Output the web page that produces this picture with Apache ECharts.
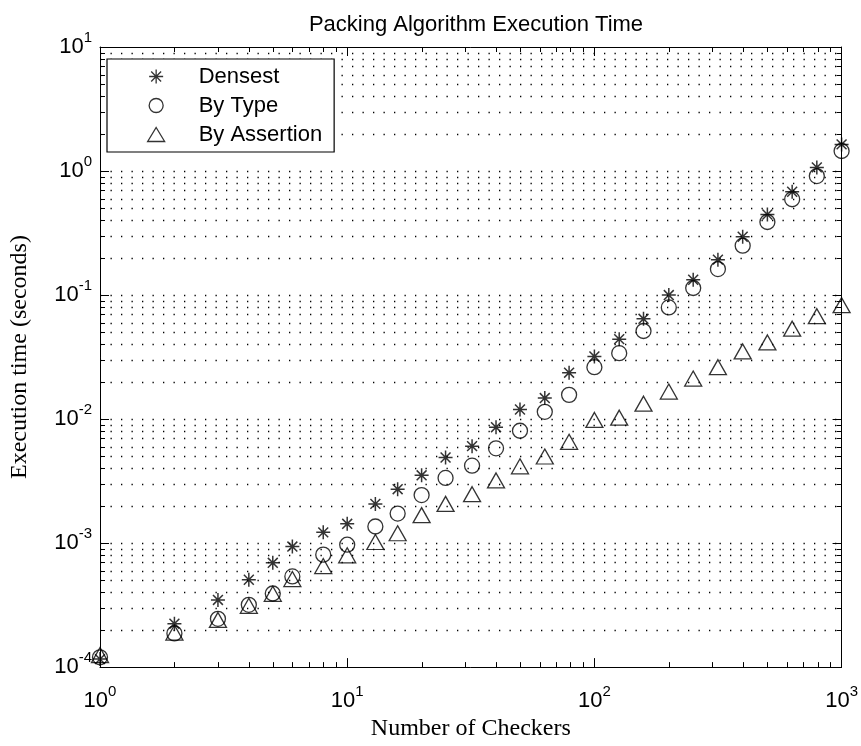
<!DOCTYPE html>
<html>
<head>
<meta charset="utf-8">
<script src="https://cdn.jsdelivr.net/npm/echarts@6/dist/echarts.min.js"></script>
<style>
html,body{margin:0;padding:0;background:#fff;}
#chart{width:861px;height:746px;}
</style>
</head>
<body>
<div id="chart"></div>
<script>
// ---- data ----
const checkers = [1,2,3,4,5,6,8,10,13,16,20,25,32,40,50,63,79,100,126,158,200,251,316,398,501,631,794,1000];
const densest = [1.16e-4,2.24e-4,3.48e-4,5.06e-4,6.93e-4,9.37e-4,1.22e-3,1.43e-3,2.07e-3,2.72e-3,3.52e-3,4.9e-3,6.05e-3,8.6e-3,0.01194,0.01476,0.02366,0.032,0.0441,0.0643,0.0999,0.1328,0.193,0.295,0.446,0.68,1.07,1.64];
const byType = [1.2e-4,1.87e-4,2.45e-4,3.18e-4,3.92e-4,5.38e-4,8.07e-4,9.7e-4,1.36e-3,1.73e-3,2.44e-3,3.35e-3,4.21e-3,5.81e-3,8.05e-3,0.01143,0.01567,0.0262,0.034,0.0513,0.0794,0.114,0.162,0.25,0.388,0.592,0.91,1.45];
const byAssertion = [1.25e-4,1.9e-4,2.4e-4,3.12e-4,3.9e-4,5.13e-4,6.53e-4,7.97e-4,1.02e-3,1.2e-3,1.68e-3,2.07e-3,2.48e-3,3.2e-3,4.16e-3,4.99e-3,6.55e-3,9.84e-3,0.01026,0.0133,0.01667,0.0212,0.0262,0.0351,0.0415,0.0535,0.0675,0.0828];
const seriesNames = ['Densest','By Type','By Assertion'];
const xMinorTicks = [2,3,4,5,6,7,8,9,20,30,40,50,60,70,80,90,200,300,400,500,600,700,800,900];
const yMinorTicks = [2e-4,3e-4,4e-4,5e-4,6e-4,7e-4,8e-4,9e-4,2e-3,3e-3,4e-3,5e-3,6e-3,7e-3,8e-3,9e-3,2e-2,3e-2,4e-2,5e-2,6e-2,7e-2,8e-2,9e-2,0.2,0.3,0.4,0.5,0.6,0.7,0.8,0.9,2,3,4,5,6,7,8,9];
const yGridLines = [1e-3,1e-2,1e-1,1].concat(yMinorTicks);

const FONT = 'Liberation Sans, Arial, Helvetica, sans-serif';
const SERIF = 'Liberation Serif, Times New Roman, serif';

function powLabel(v){
  const e = Math.round(Math.log10(v));
  return '{b|10}{s|' + e + '}';
}
const richLabel = {
  b: {fontSize: 22, fontFamily: FONT, color: '#000'},
  s: {fontSize: 15, fontFamily: FONT, color: '#000', padding: [0,0,19,0]}
};

const starPath = 'path://M0,-10L0,10M-10,0L10,0M-7.07,-7.07L7.07,7.07M-7.07,7.07L7.07,-7.07';
const starStyle = {color: 'rgba(0,0,0,0)', borderColor: '#000', borderWidth: 1.5};
const hollow = {color: 'rgba(0,0,0,0)', borderColor: '#000', borderWidth: 1.3};

function pairs(ys){ return checkers.map((x,i)=>[x, ys[i]]); }

const baseX = {
  type: 'log', logBase: 10, min: 1, max: 1000, splitNumber: 3,
  axisLine: {show: true, onZero: false, lineStyle: {color: '#000', width: 1}},
  axisTick: {show: true, inside: true, length: 9, lineStyle: {color: '#000', width: 1}},
  splitLine: {show: false}, minorTick: {show: false}
};
const baseY = {
  type: 'log', logBase: 10, min: 1e-4, max: 10, splitNumber: 5,
  axisLine: {show: true, onZero: false, lineStyle: {color: '#000', width: 1}},
  axisTick: {show: true, inside: true, length: 9, lineStyle: {color: '#000', width: 1}},
  splitLine: {show: false}, minorTick: {show: false}
};

const option = {
  backgroundColor: '#fff',
  animation: false,
  title: {
    text: 'Packing Algorithm Execution Time',
    left: 471, top: 9, textAlign: 'center',
    textStyle: {fontSize: 22, fontWeight: 'normal', fontFamily: FONT, color: '#000'}
  },
  grid: {left: 96, right: 15, top: 47, bottom: 65, containLabel: false},
  xAxis: [
    Object.assign({}, baseX, {
      position: 'bottom',
      axisLabel: {formatter: powLabel, rich: richLabel, margin: 17, showMinLabel: true, showMaxLabel: true, hideOverlap: false},
      name: 'Number of Checkers', nameLocation: 'middle', nameGap: 47,
      nameTextStyle: {fontSize: 24, fontFamily: SERIF, color: '#000'}
    }),
    Object.assign({}, baseX, {position: 'top', axisLabel: {show: false}})
  ],
  yAxis: [
    Object.assign({}, baseY, {
      position: 'left',
      axisLabel: {formatter: powLabel, rich: richLabel, margin: 8, showMinLabel: true, showMaxLabel: true, hideOverlap: false},
      name: 'Execution time (seconds)', nameLocation: 'middle', nameGap: 68,
      nameTextStyle: {fontSize: 24, fontFamily: SERIF, color: '#000'}
    }),
    Object.assign({}, baseY, {position: 'right', axisLabel: {show: false}})
  ],
  legend: {
    orient: 'vertical', left: 107, top: 59,
    padding: [3, 12, 3, 40],
    itemWidth: 17, itemHeight: 14, itemGap: 0,
    backgroundColor: '#fff', borderColor: '#000', borderWidth: 1.2, borderRadius: 0,
    itemStyle: {borderWidth: 1.3},
    textStyle: {fontSize: 22, fontFamily: FONT, color: '#000', lineHeight: 29, padding: [0, 0, 0, 29]},
    data: seriesNames, selectedMode: false
  },
  series: [
    {
      type: 'custom', coordinateSystem: 'cartesian2d', silent: true, z: 1, clip: false,
      data: yGridLines.map(v => [1, v]),
      renderItem: function(params, api){
        const cs = params.coordSys;
        const p = api.coord([1, api.value(1)]);
        const y = Math.round(p[1]) + 0.5;
        return {type: 'line', shape: {x1: cs.x, y1: y, x2: cs.x + cs.width, y2: y},
          style: {stroke: '#000', lineWidth: 1.3, lineDash: [1.3, 9.2]}};
      }
    },
    {
      type: 'custom', coordinateSystem: 'cartesian2d', silent: true, z: 1, clip: false,
      data: yMinorTicks.map(v => [1, v]),
      renderItem: function(params, api){
        const cs = params.coordSys;
        const p = api.coord([1, api.value(1)]);
        const y = Math.round(p[1]) + 0.5;
        return {type: 'group', children: [
          {type: 'line', shape: {x1: cs.x, y1: y, x2: cs.x + 5, y2: y}, style: {stroke: '#000', lineWidth: 1}},
          {type: 'line', shape: {x1: cs.x + cs.width - 5, y1: y, x2: cs.x + cs.width, y2: y}, style: {stroke: '#000', lineWidth: 1}}
        ]};
      }
    },
    {
      type: 'custom', coordinateSystem: 'cartesian2d', silent: true, z: 1, clip: false,
      data: xMinorTicks.map(v => [v, 1]),
      renderItem: function(params, api){
        const cs = params.coordSys;
        const p = api.coord([api.value(0), 1]);
        const x = Math.round(p[0]) + 0.5;
        return {type: 'group', children: [
          {type: 'line', shape: {x1: x, y1: cs.y + cs.height, x2: x, y2: cs.y + cs.height - 5}, style: {stroke: '#000', lineWidth: 1}},
          {type: 'line', shape: {x1: x, y1: cs.y, x2: x, y2: cs.y + 5}, style: {stroke: '#000', lineWidth: 1}}
        ]};
      }
    },
    {name: 'Densest', type: 'scatter', symbol: starPath, symbolSize: 14, itemStyle: starStyle, z: 3, emphasis: {disabled: true}, data: pairs(densest)},
    {name: 'By Type', type: 'scatter', symbol: 'circle', symbolSize: 15, itemStyle: hollow, z: 3, emphasis: {disabled: true}, data: pairs(byType)},
    {name: 'By Assertion', type: 'scatter', symbol: 'triangle', symbolSize: [17, 15], itemStyle: hollow, z: 3, emphasis: {disabled: true}, data: pairs(byAssertion)}
  ]
};

const chart = echarts.init(document.getElementById('chart'), null, {renderer: 'canvas'});
chart.setOption(option);
</script>
</body>
</html>
